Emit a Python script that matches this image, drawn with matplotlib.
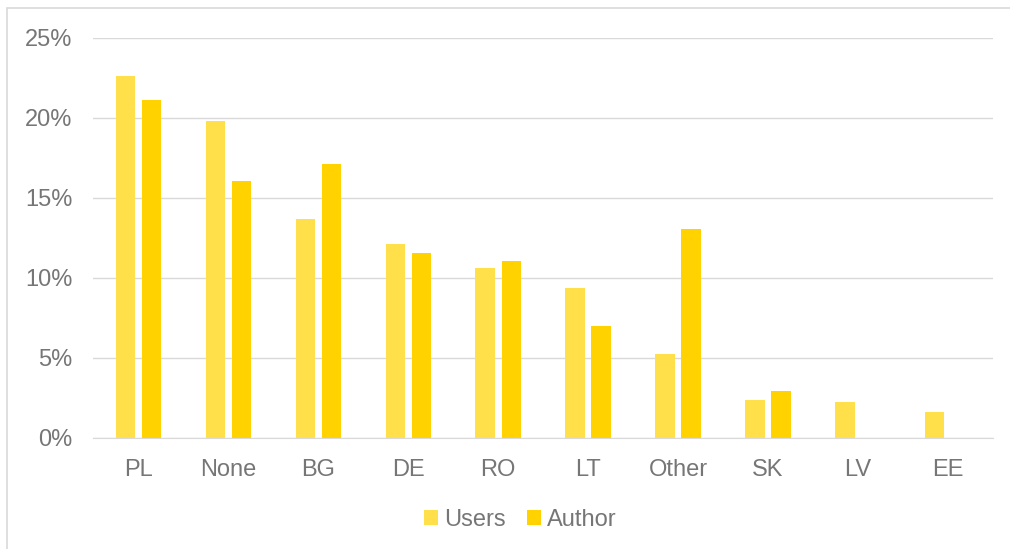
import numpy as np
import matplotlib.pyplot as plt
from matplotlib.patches import Rectangle
from matplotlib.ticker import PercentFormatter

categories = ["PL", "None", "BG", "DE", "RO", "LT", "Other", "SK", "LV", "EE"]
users = [22.6, 19.8, 13.7, 12.1, 10.65, 9.4, 5.25, 2.4, 2.25, 1.6]
author = [21.1, 16.05, 17.1, 11.55, 11.05, 7.0, 13.05, 2.95, 0, 0]

USERS_COLOR = "#FFE04B"
AUTHOR_COLOR = "#FFD200"
TEXT_COLOR = "#767676"
GRID_COLOR = "#D9D9D9"

plt.rcParams["font.family"] = ["Liberation Sans", "DejaVu Sans"]

fig = plt.figure(figsize=(10.10, 5.49), dpi=100)
ax = fig.add_axes([0.0925, 0.2022, 0.8905, 0.7286])

x = np.arange(len(categories))
w = 0.215
ax.bar(x - 0.145, users, w, color=USERS_COLOR, label="Users", zorder=3)
ax.bar(x + 0.145, author, w, color=AUTHOR_COLOR, label="Author", zorder=3)

ax.set_xlim(-0.5, len(categories) - 0.5)
ax.set_ylim(0, 25)
ax.set_yticks(np.arange(0, 26, 5))
ax.yaxis.set_major_formatter(PercentFormatter(decimals=0))
ax.set_xticks(x)
ax.set_xticklabels(categories)

ax.grid(axis="y", color=GRID_COLOR, linewidth=1, zorder=0)
for s in ["top", "right", "left"]:
    ax.spines[s].set_visible(False)
ax.spines["bottom"].set_color(GRID_COLOR)
ax.spines["bottom"].set_zorder(4)
ax.tick_params(axis="both", length=0, labelsize=17, colors=TEXT_COLOR)
ax.tick_params(axis="x", pad=15)
ax.tick_params(axis="y", pad=15)

leg = fig.legend(loc="center", bbox_to_anchor=(0.515, 0.053), ncol=2, frameon=False,
                 fontsize=17, handlelength=0.6, handleheight=0.6, handletextpad=0.25,
                 columnspacing=0.9)
for t in leg.get_texts():
    t.set_color(TEXT_COLOR)

fig.patches.append(Rectangle((7 / 1010, -0.01), 1.0, 1 - 8 / 549 + 0.01,
                             transform=fig.transFigure, fill=False,
                             edgecolor=GRID_COLOR, linewidth=1.2))

fig.savefig("out.png", dpi=100)
